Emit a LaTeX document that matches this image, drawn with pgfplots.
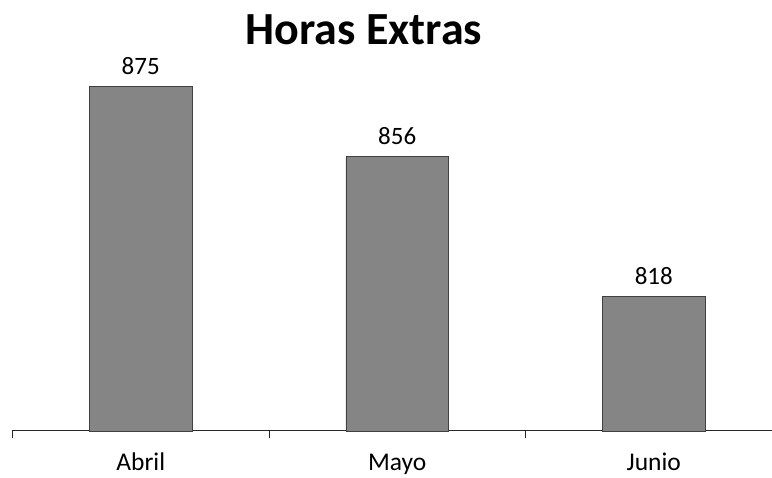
\documentclass[border=0pt]{standalone}
\usepackage{pgfplots}
\pgfplotsset{compat=1.18}
\usepackage{fontspec}
\setmainfont{Carlito}
\begin{document}
\begin{tikzpicture}[x=1pt,y=1pt]
\useasboundingbox (0,0) rectangle (772,478);
\begin{axis}[
  at={(12.5pt,47pt)}, anchor=south west,
  scale only axis, width=759.5pt, height=360pt,
  xmin=-0.5, xmax=2.461, ymin=781.6, ymax=879.3,
  axis x line*=bottom, axis line style={-, black!85, line width=1pt},
  hide y axis,
  xtick={0,1,2}, xticklabels={Abril,Mayo,Junio},
  major tick length=0pt,
  xticklabel style={anchor=base, inner sep=0pt, yshift=-40pt, font=\fontsize{25.5}{30}\selectfont},
  extra x ticks={-0.5,0.5,1.5}, extra x tick labels={},
  extra tick style={major tick length=7pt, tick align=outside, tick style={black!85, line width=1pt}},
  ybar, bar width=0.40,
  nodes near coords,
  nodes near coords style={font=\fontsize{25}{29}\selectfont, anchor=base, inner sep=0pt, yshift=12pt},
  /pgf/number format/assume math mode=true,
  clip=false,
]
\addplot[fill=black!48, draw=black!75, line width=0.8pt] coordinates {(0,875) (1,856) (2,818)};
\end{axis}
\node[anchor=base, inner sep=0pt] at (364pt,433pt) {\fontsize{46}{52}\selectfont\bfseries Horas Extras};
\end{tikzpicture}
\end{document}
